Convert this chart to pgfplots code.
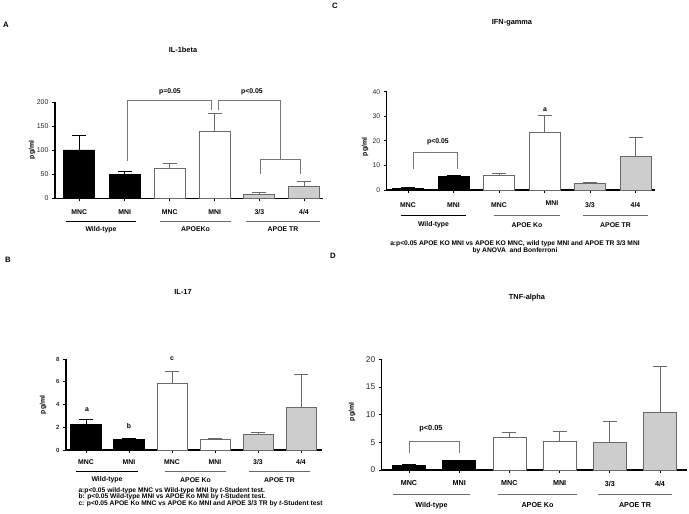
\documentclass[border=0pt]{standalone}
\usepackage{pgfplots}
\pgfplotsset{compat=1.18}
\usepackage{fontspec}
\setmainfont{Liberation Sans}
\definecolor{bargray}{RGB}{205,205,205}
\definecolor{edgegray}{RGB}{105,105,105}
\definecolor{brgray}{RGB}{120,120,120}
\newcommand\fT{\fontsize{7.4}{8}\selectfont\bfseries}
\newcommand\fC{\fontsize{6.9}{7.5}\selectfont\bfseries}
\newcommand\fN{\fontsize{6.7}{7.3}\selectfont\bfseries}
\newcommand\fL{\fontsize{7.8}{8}\selectfont\bfseries}
\newcommand\fD{\fontsize{7.2}{8}\selectfont\bfseries}
\pgfplotsset{
  panel/.style={
    scale only axis, axis lines=left,
    axis line style={-, line width=1.1bp, black},
    clip=false, ymin=0, tick align=outside, major tick length=3bp,
    tick style={black, line width=0.8bp},
    xticklabels={},
    /pgf/number format/assume math mode=true,
    yticklabel style={black!85},
  },
  barbase/.style={ybar, bar shift=0pt, line width=0.7bp,
    error bars/y dir=plus, error bars/y explicit,
    error bars/error bar style={line width=0.8bp, #1},
    error bars/error mark options={rotate=90, mark size=7bp, line width=0.8bp, #1}},
  blackbar/.style={fill=black, draw=black, barbase=black},
  whitebar/.style={fill=white, draw=edgegray, barbase=edgegray},
  graybar/.style={fill=bargray, draw=edgegray, barbase=edgegray},
}
\begin{document}
\begin{tikzpicture}
\path[use as bounding box] (0,0) rectangle (689bp,514bp);
% ---------------- A : IL-1beta
\begin{axis}[panel, at={(55bp,315.7bp)}, anchor=south west,
  width=268bp, height=96bp, xmin=55, xmax=323, ymax=200,
  ytick={0,50,100,150,200}, xtick={79.2,124.7,169.7,214.7,259.3,304},
  yticklabel style={font=\fontsize{7}{7}\selectfont}]
\addplot[blackbar, bar width=31] coordinates {(79.2,100.7) +- (0,30.3) (124.7,50) +- (0,5.5)};
\addplot[whitebar, bar width=31] coordinates {(169.7,62.5) +- (0,10.5) (214.7,139.6) +- (0,37.4)};
\addplot[graybar, bar width=31] coordinates {(259.3,8.3) +- (0,4.2) (304,25.7) +- (0,9.7)};
\draw[brgray, line width=0.8bp] (axis cs:127,78.5) -- (axis cs:127,203) -- (axis cs:211.7,203) -- (axis cs:211.7,183);
\draw[brgray, line width=0.8bp] (axis cs:218.3,183) -- (axis cs:218.3,203) -- (axis cs:280.7,203) -- (axis cs:280.7,80);
\draw[brgray, line width=0.8bp] (axis cs:260.7,50) -- (axis cs:260.7,80) -- (axis cs:300,80) -- (axis cs:300,50);
\node[font=\fC] at (axis cs:170,222) {p=0.05};
\node[font=\fC] at (axis cs:252,222) {p<0.05};
\end{axis}
% ---------------- C : IFN-gamma
\begin{axis}[panel, at={(386.7bp,324bp)}, anchor=south west,
  width=268.3bp, height=98.3bp, xmin=386.7, xmax=655, ymax=40,
  ytick={0,10,20,30,40}, xtick={408,453.5,499,544.5,590,635.5},
  yticklabel style={font=\fontsize{6.8}{7}\selectfont}]
\addplot[blackbar, bar width=31] coordinates {(408,0.75) +- (0,0.2) (453.5,5.5) +- (0,0.6)};
\addplot[whitebar, bar width=31] coordinates {(499,5.8) +- (0,0.95) (544.5,23.3) +- (0,6.9)};
\addplot[graybar, bar width=31] coordinates {(590,2.7) +- (0,0.35) (635.5,13.6) +- (0,7.7)};
\draw[brgray, line width=0.8bp] (axis cs:413.3,8.5) -- (axis cs:413.3,15.3) -- (axis cs:457.3,15.3) -- (axis cs:457.3,8.5);
\node[font=\fC] at (axis cs:438,19.6) {p<0.05};
\node[font=\fC] at (axis cs:545,32.5) {a};
\end{axis}
% ---------------- B : IL-17
\begin{axis}[panel, at={(66bp,64bp)}, anchor=south west,
  width=255.7bp, height=91bp, xmin=66, xmax=321.7, ymax=8,
  ytick={0,2,4,6,8}, xtick={86,129,172,215,258,301},
  yticklabel style={font=\fontsize{6}{6}\selectfont\bfseries}]
\addplot[blackbar, bar width=31] coordinates {(86,2.26) +- (0,0.47) (129,0.94) +- (0,0.09)};
\addplot[whitebar, bar width=30] coordinates {(172,5.9) +- (0,1.0) (215,0.94) +- (0,0.12)};
\addplot[graybar, bar width=30] coordinates {(258,1.38) +- (0,0.17) (301,3.72) +- (0,2.9)};
\node[font=\fC] at (axis cs:87,3.58) {a};
\node[font=\fC] at (axis cs:129,2.1) {b};
\node[font=\fC] at (axis cs:172,8.06) {c};
\end{axis}
% ---------------- D : TNF-alpha
\begin{axis}[panel, at={(381.7bp,44bp)}, anchor=south west,
  width=305.3bp, height=110.7bp, xmin=381.7, xmax=687, ymax=20,
  ytick={0,5,10,15,20}, xtick={409,459.2,509.4,559.6,609.8,660},
  yticklabel style={font=\fontsize{8.4}{9}\selectfont}]
\addplot[blackbar, bar width=33] coordinates {(409,0.9) +- (0,0.1) (459.2,1.7) +- (0,0.05)};
\addplot[whitebar, bar width=33] coordinates {(509.4,5.85) +- (0,0.95) (559.6,5.1) +- (0,1.95)};
\addplot[graybar, bar width=33] coordinates {(609.8,5.0) +- (0,3.7) (660,10.5) +- (0,8.2)};
\draw[brgray, line width=0.8bp] (axis cs:409.3,3) -- (axis cs:409.3,5.1) -- (axis cs:459,5.1) -- (axis cs:459,3);
\node[font=\fontsize{7.4}{8}\selectfont\bfseries] at (axis cs:431,7.5) {p<0.05};
\end{axis}
% ---------------- annotations in pixel coordinates (y down)
\begin{scope}[x=1bp, y=-1bp, yshift=514bp]
% panel letters
\node[font=\fL] at (6,25) {A};
\node[font=\fL] at (335,6) {C};
\node[font=\fL] at (8,260) {B};
\node[font=\fL] at (333,256) {D};
% titles
\node[font=\fT] at (183,50) {IL-1beta};
\node[font=\fT] at (512,23) {IFN-gamma};
\node[font=\fT] at (183,292) {IL-17};
\node[font=\fT] at (527,298) {TNF-alpha};
% y labels
\node[font=\fC, rotate=90] at (32,150) {pg/ml};
\node[font=\fC, rotate=90] at (365,147) {pg/ml};
\node[font=\fC, rotate=90] at (43,405) {pg/ml};
\node[font=\fC, rotate=90] at (352,412) {pg/ml};
% A categories
\foreach \x/\t in {79.2/MNC,124.7/MNI,169.7/MNC,214.7/MNI,259.3/3{/}3,304/4{/}4}
  \node[font=\fC] at (\x,211.7) {\t};
\draw[black, line width=0.7bp] (66,221) -- (136,221);
\draw[edgegray, line width=0.7bp] (160,221) -- (231,221);
\draw[edgegray, line width=0.7bp] (246,221) -- (320,221);
\node[font=\fC] at (101,229.5) {Wild-type};
\node[font=\fC] at (195.5,229.5) {APOEKo};
\node[font=\fC] at (283,229.5) {APOE TR};
% C categories
\foreach \x/\t in {408/MNC,453.5/MNI,499/MNC,590/3{/}3,635.5/4{/}4}
  \node[font=\fC] at (\x,205) {\t};
\node[font=\fC] at (552,203) {MNI};
\draw[black, line width=0.7bp] (401,215) -- (466,215);
\draw[edgegray, line width=0.7bp] (494,215) -- (560,215);
\draw[edgegray, line width=0.7bp] (583,215) -- (648,215);
\node[font=\fC] at (433.5,225) {Wild-type};
\node[font=\fC] at (527,225) {APOE Ko};
\node[font=\fC] at (615.5,225) {APOE TR};
\node[font=\fN, align=center] at (515,247.5) {a:p<0.05 APOE KO MNI vs APOE KO MNC, wild type MNI and APOE TR 3/3 MNI\\by ANOVA\ \ and Bonferroni};
% B categories
\foreach \x/\t in {86/MNC,129/MNI,172/MNC,215/MNI,258/3{/}3,301/4{/}4}
  \node[font=\fC] at (\x,462) {\t};
\draw[black, line width=0.7bp] (76,471) -- (138,471);
\draw[edgegray, line width=0.7bp] (165,471) -- (226,471);
\draw[edgegray, line width=0.7bp] (249,471) -- (310,471);
\node[font=\fC] at (107,480) {Wild-type};
\node[font=\fC] at (195.5,480) {APOE Ko};
\node[font=\fC] at (279.5,480) {APOE TR};
\node[font=\fN, anchor=west] at (75,490.5) {a:p<0.05 wild-type MNC vs Wild-type MNI by \textit{t}-Student test.};
\node[font=\fN, anchor=west] at (75,497) {b: p<0.05 Wild-type MNI vs APOE Ko MNI by \textit{t}-Student test.};
\node[font=\fN, anchor=west] at (75,503.5) {c: p<0.05 APOE Ko MNC vs APOE Ko MNI and APOE 3/3 TR by \textit{t}-Student test};
% D categories
\foreach \x/\t in {409/MNC,459.2/MNI,509.4/MNC,559.6/MNI,609.8/3{/}3,660/4{/}4}
  \node[font=\fD] at (\x,483.5) {\t};
\draw[edgegray, line width=0.7bp] (393,494.5) -- (470,494.5);
\draw[edgegray, line width=0.7bp] (498,494.5) -- (577,494.5);
\draw[edgegray, line width=0.7bp] (598,494.5) -- (672,494.5);
\node[font=\fD] at (431.5,505.5) {Wild-type};
\node[font=\fD] at (537.5,505.5) {APOE Ko};
\node[font=\fD] at (635,505.5) {APOE TR};
\end{scope}
\end{tikzpicture}
\end{document}
